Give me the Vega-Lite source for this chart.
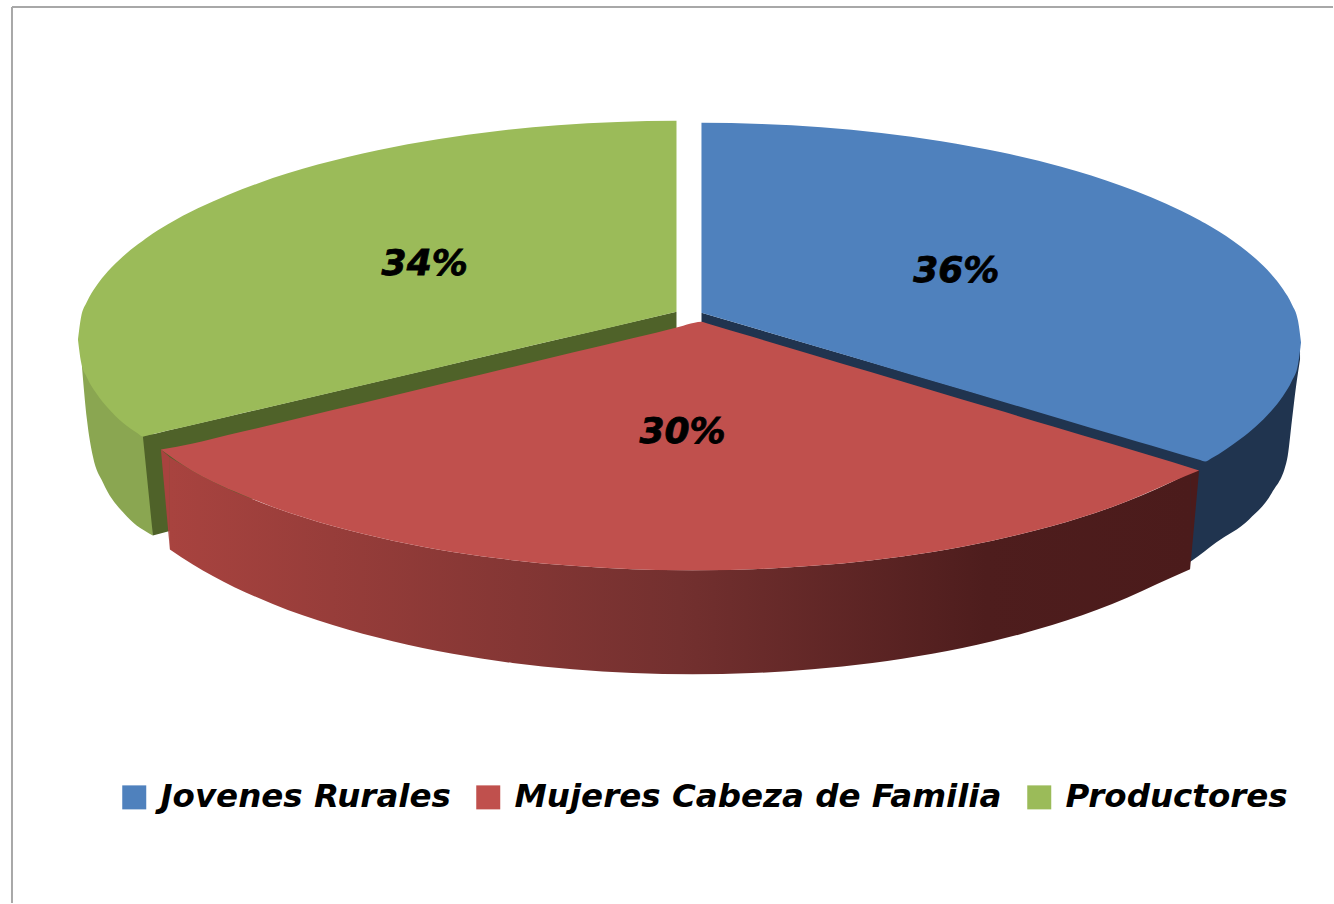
{"$schema":"https://vega.github.io/schema/vega-lite/v6.json","width":1334,"height":904,"autosize":{"type":"fit","contains":"padding"},"padding":0,"background":"white","config":{"view":{"stroke":null}},
"datasets":{
"marco":[{"x":12,"x2":1334,"y":7,"y2":904}],
"etiquetas":[{"serie":"Jovenes Rurales","valor":0.36,"x":957,"y":271},{"serie":"Mujeres Cabeza de Familia","valor":0.30,"x":683,"y":432},{"serie":"Productores","valor":0.34,"x":425,"y":264}],
"verdeLado":[{"x":82,"y":340,"y2":367},{"x":87,"y":340,"y2":420},{"x":93,"y":340,"y2":457},{"x":103,"y":340,"y2":483},{"x":127,"y":340,"y2":517},{"x":153,"y":340,"y2":536}],
"verdePared":[{"x":143,"y":437,"y2":437},{"x":153,"y":434.7,"y2":536},{"x":168,"y":431,"y2":532},{"x":677,"y":312,"y2":335}],
"verdeTapa":[{"serie":"Productores","x":78,"y":340,"y2":340},{"serie":"Productores","x":81,"y":318.1,"y2":361.9},{"serie":"Productores","x":87,"y":302.2,"y2":377.8},{"serie":"Productores","x":96,"y":286.8,"y2":393.2},{"serie":"Productores","x":108,"y":271.6,"y2":408.4},{"serie":"Productores","x":123,"y":256.8,"y2":423.2},{"serie":"Productores","x":138,"y":244.5,"y2":434},{"serie":"Productores","x":143,"y":240.9,"y2":437},{"serie":"Productores","x":148,"y":237.3,"y2":435.8},{"serie":"Productores","x":168,"y":224.6,"y2":431},{"serie":"Productores","x":198,"y":208.6,"y2":424.1},{"serie":"Productores","x":228,"y":195.1,"y2":417.1},{"serie":"Productores","x":258,"y":183.6,"y2":410.1},{"serie":"Productores","x":318,"y":164.8,"y2":396.1},{"serie":"Productores","x":378,"y":150.3,"y2":382.1},{"serie":"Productores","x":438,"y":139.3,"y2":368.1},{"serie":"Productores","x":498,"y":131.1,"y2":354},{"serie":"Productores","x":558,"y":125.4,"y2":340},{"serie":"Productores","x":618,"y":122.1,"y2":326},{"serie":"Productores","x":677,"y":121,"y2":312}],
"azulPared":[{"x":702,"y":313,"y2":330},{"x":1190,"y":456,"y2":478}],
"azulLado":[{"x":1185,"y":400,"y2":566},{"x":1193,"y":400,"y2":561},{"x":1217,"y":400,"y2":543},{"x":1250,"y":400,"y2":520},{"x":1273,"y":380,"y2":493},{"x":1288,"y":360,"y2":460},{"x":1293,"y":350,"y2":420},{"x":1297,"y":346,"y2":387},{"x":1301,"y":345,"y2":360}],
"azulTapa":[{"serie":"Jovenes Rurales","x":702,"y":123,"y2":313},{"serie":"Jovenes Rurales","x":762,"y":124.1,"y2":330.7},{"serie":"Jovenes Rurales","x":822,"y":127.4,"y2":348.5},{"serie":"Jovenes Rurales","x":882,"y":133.1,"y2":366.2},{"serie":"Jovenes Rurales","x":942,"y":141.4,"y2":384},{"serie":"Jovenes Rurales","x":1002,"y":152.5,"y2":401.7},{"serie":"Jovenes Rurales","x":1062,"y":167,"y2":419.4},{"serie":"Jovenes Rurales","x":1122,"y":185.9,"y2":437.2},{"serie":"Jovenes Rurales","x":1152,"y":197.5,"y2":446},{"serie":"Jovenes Rurales","x":1182,"y":211,"y2":454.9},{"serie":"Jovenes Rurales","x":1201,"y":220.8,"y2":460.5},{"serie":"Jovenes Rurales","x":1206,"y":223.6,"y2":462},{"serie":"Jovenes Rurales","x":1212,"y":227.1,"y2":458.9},{"serie":"Jovenes Rurales","x":1242,"y":247.1,"y2":438.9},{"serie":"Jovenes Rurales","x":1257,"y":259.4,"y2":426.6},{"serie":"Jovenes Rurales","x":1272,"y":274.3,"y2":411.7},{"serie":"Jovenes Rurales","x":1284,"y":289.5,"y2":396.5},{"serie":"Jovenes Rurales","x":1293,"y":305,"y2":381},{"serie":"Jovenes Rurales","x":1299,"y":321.1,"y2":364.9},{"serie":"Jovenes Rurales","x":1302,"y":343,"y2":343}],
"rojoBordeIzq":[{"x":161,"y":450,"y2":450},{"x":170,"y":457.8,"y2":550}],
"rojoBordeDer":[{"x":1191,"y":473,"y2":570},{"x":1200,"y":471,"y2":471}],
"rojoLado":[{"x":170,"y":457.8,"y2":550},{"x":193,"y":471.7,"y2":565},{"x":213,"y":482.2,"y2":576.6},{"x":273,"y":507.5,"y2":604.7},{"x":333,"y":526.6,"y2":625.8},{"x":393,"y":541.3,"y2":642},{"x":453,"y":552.5,"y2":654.5},{"x":513,"y":560.8,"y2":663.7},{"x":573,"y":566.5,"y2":670},{"x":633,"y":569.9,"y2":673.8},{"x":693,"y":571,"y2":675},{"x":753,"y":569.9,"y2":673.8},{"x":813,"y":566.5,"y2":670},{"x":873,"y":560.8,"y2":663.7},{"x":933,"y":552.5,"y2":654.5},{"x":993,"y":541.3,"y2":642},{"x":1053,"y":526.6,"y2":625.8},{"x":1113,"y":507.5,"y2":604.7},{"x":1173,"y":482.2,"y2":578},{"x":1191,"y":473,"y2":570}],
"rojoTapa":[{"serie":"Mujeres Cabeza de Familia","x":161,"y":450,"y2":450},{"serie":"Mujeres Cabeza de Familia","x":193,"y":444.1,"y2":471.7},{"serie":"Mujeres Cabeza de Familia","x":213,"y":439.3,"y2":482.2},{"serie":"Mujeres Cabeza de Familia","x":243,"y":432.1,"y2":495.5},{"serie":"Mujeres Cabeza de Familia","x":273,"y":424.9,"y2":507.5},{"serie":"Mujeres Cabeza de Familia","x":333,"y":410.5,"y2":526.6},{"serie":"Mujeres Cabeza de Familia","x":393,"y":396.1,"y2":541.3},{"serie":"Mujeres Cabeza de Familia","x":453,"y":381.7,"y2":552.5},{"serie":"Mujeres Cabeza de Familia","x":513,"y":367.3,"y2":560.8},{"serie":"Mujeres Cabeza de Familia","x":573,"y":352.9,"y2":566.5},{"serie":"Mujeres Cabeza de Familia","x":633,"y":338.6,"y2":569.9},{"serie":"Mujeres Cabeza de Familia","x":680,"y":327,"y2":571},{"serie":"Mujeres Cabeza de Familia","x":695,"y":323,"y2":571},{"serie":"Mujeres Cabeza de Familia","x":702,"y":322,"y2":571},{"serie":"Mujeres Cabeza de Familia","x":708,"y":323.8,"y2":571},{"serie":"Mujeres Cabeza de Familia","x":753,"y":337.2,"y2":569.9},{"serie":"Mujeres Cabeza de Familia","x":813,"y":355.1,"y2":566.5},{"serie":"Mujeres Cabeza de Familia","x":873,"y":373,"y2":560.8},{"serie":"Mujeres Cabeza de Familia","x":933,"y":390.9,"y2":552.5},{"serie":"Mujeres Cabeza de Familia","x":993,"y":408.8,"y2":541.3},{"serie":"Mujeres Cabeza de Familia","x":1053,"y":426.7,"y2":526.6},{"serie":"Mujeres Cabeza de Familia","x":1113,"y":444.6,"y2":507.5},{"serie":"Mujeres Cabeza de Familia","x":1143,"y":453.5,"y2":495.5},{"serie":"Mujeres Cabeza de Familia","x":1173,"y":462.5,"y2":482.2},{"serie":"Mujeres Cabeza de Familia","x":1200,"y":471,"y2":471}]
},
"encoding":{
"x":{"field":"x","type":"quantitative","axis":null,"scale":{"domain":[0,1334],"nice":false,"zero":false}},
"y":{"field":"y","type":"quantitative","axis":null,"scale":{"domain":[904,0],"nice":false,"zero":false}}
},
"layer":[
{"data":{"name":"marco"},"mark":{"type":"rule","color":"#a8a8a8","strokeWidth":2},"encoding":{"y2":{"field":"y2"}}},
{"data":{"name":"marco"},"mark":{"type":"rule","color":"#a8a8a8","strokeWidth":2},"encoding":{"x2":{"field":"x2"}}},
{"data":{"name":"verdeLado"},"mark":{"type":"area","color":"#8aa651","interpolate":"monotone"},"encoding":{"y2":{"field":"y2"}}},
{"data":{"name":"verdePared"},"mark":{"type":"area","color":"#4f6229"},"encoding":{"y2":{"field":"y2"}}},
{"data":{"name":"verdeTapa"},"mark":{"type":"area","interpolate":"monotone"},"encoding":{"y2":{"field":"y2"},"color":{"field":"serie","type":"nominal","scale":{"domain":["Jovenes Rurales","Mujeres Cabeza de Familia","Productores"],"range":["#4f81bd","#c0504d","#9bbb59"]},"legend":{"title":null,"orient":"none","legendX":118,"legendY":781,"direction":"horizontal","columns":3,"symbolType":"square","symbolSize":576,"symbolStrokeWidth":0,"labelFont":"DejaVu Sans","labelFontStyle":"italic","labelFontWeight":"bold","labelFontSize":32.5,"labelColor":"black","labelOffset":10,"columnPadding":21,"labelLimit":700}}}},
{"data":{"name":"azulPared"},"mark":{"type":"area","color":"#20344f"},"encoding":{"y2":{"field":"y2"}}},
{"data":{"name":"azulLado"},"mark":{"type":"area","color":"#20344f","interpolate":"monotone"},"encoding":{"y2":{"field":"y2"}}},
{"data":{"name":"azulTapa"},"mark":{"type":"area","interpolate":"monotone"},"encoding":{"y2":{"field":"y2"},"color":{"field":"serie","type":"nominal"}}},
{"data":{"name":"rojoBordeIzq"},"mark":{"type":"area","color":"#a8433f"},"encoding":{"y2":{"field":"y2"}}},
{"data":{"name":"rojoBordeDer"},"mark":{"type":"area","color":"#4b1b1b"},"encoding":{"y2":{"field":"y2"}}},
{"data":{"name":"rojoLado"},"mark":{"type":"area","interpolate":"monotone","color":{"gradient":"linear","x1":0,"x2":1,"y1":0,"y2":0,"stops":[{"offset":0,"color":"#a8433f"},{"offset":0.5,"color":"#73302f"},{"offset":0.8,"color":"#4e1d1d"},{"offset":1,"color":"#4b1b1b"}]}},"encoding":{"y2":{"field":"y2"}}},
{"data":{"name":"rojoTapa"},"mark":{"type":"area","interpolate":"monotone"},"encoding":{"y2":{"field":"y2"},"color":{"field":"serie","type":"nominal"}}},
{"data":{"name":"etiquetas"},"mark":{"type":"text","font":"DejaVu Sans","fontStyle":"italic","fontWeight":"bold","fontSize":36,"color":"black","stroke":"black","strokeWidth":0.8,"align":"center","baseline":"middle"},"encoding":{"text":{"field":"valor","type":"quantitative","format":".0%"}}}
]}
